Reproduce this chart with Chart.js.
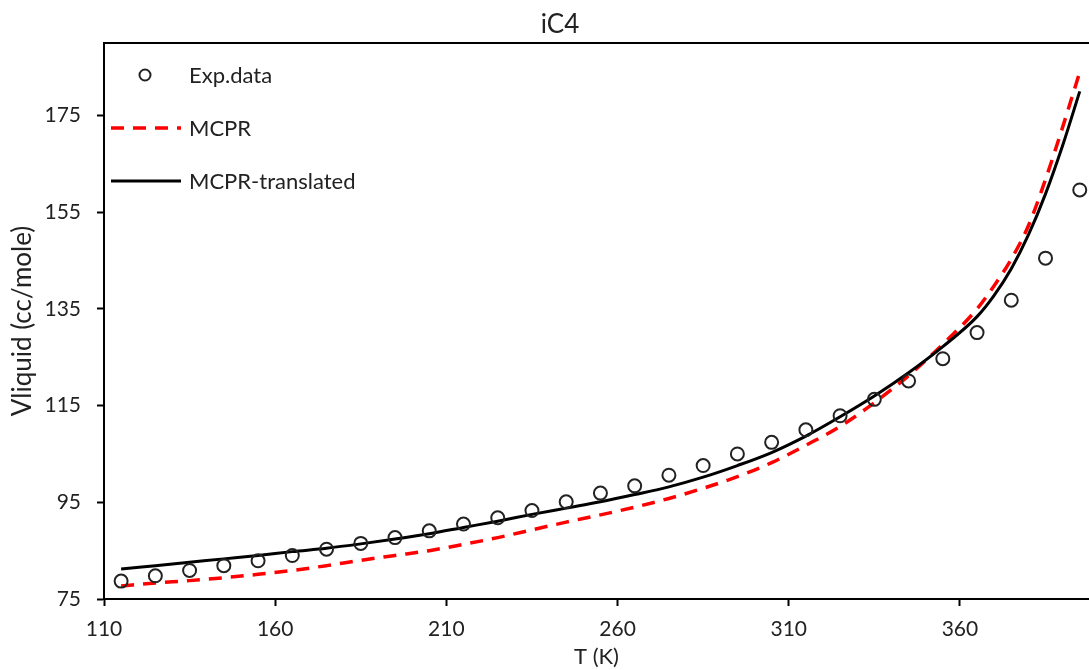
<!DOCTYPE html>
<html>
<head>
<meta charset="utf-8">
<script src="https://cdn.jsdelivr.net/npm/chart.js@4/dist/chart.umd.min.js"></script>
<style>
  html, body { margin: 0; padding: 0; background: #fff; }
  #wrap { width: 1089px; height: 670px; }
</style>
</head>
<body>
<div id="wrap"><canvas id="vl-chart" width="1089" height="670"></canvas></div>
<script>
// experimental points
var tempExp = [115, 125, 135, 145, 155, 165, 175, 185, 195, 205, 215, 225, 235, 245, 255,
  265, 275, 285, 295, 305, 315, 325, 335, 345, 355, 365, 375, 385, 395];
var vExp = [78.7, 79.8, 80.9, 81.9, 82.9, 84.0, 85.3, 86.5, 87.7, 89.1, 90.5, 91.8, 93.3, 95.1, 96.9,
  98.4, 100.6, 102.6, 105.0, 107.4, 110.0, 112.9, 116.3, 120.1, 124.7, 130.1, 136.8, 145.5, 159.6];

// model curves
var tempModel = [115, 125, 135, 145, 155, 165, 175, 185, 195, 205, 215, 225, 235, 245, 255, 265,
  275, 285, 295, 305, 315, 325, 335, 345, 355, 365, 370, 375, 380, 385, 390, 395];
var vMcpr = [77.7, 78.3, 78.8, 79.4, 80.1, 80.9, 81.9, 83.0, 84.0, 85.0, 86.3, 87.7, 89.3, 90.9, 92.4, 94.0,
  95.8, 97.9, 100.3, 103.2, 106.8, 110.7, 115.6, 121.2, 127.7, 135.0, 139.8, 145.3, 152.2, 161.8, 172.6, 184.0];
var vTranslated = [81.2, 81.9, 82.6, 83.3, 84.0, 84.8, 85.5, 86.4, 87.4, 88.5, 89.8, 91.1, 92.5, 93.8, 95.1, 96.6,
  98.2, 100.2, 102.6, 105.3, 108.7, 112.7, 117.0, 121.8, 127.2, 133.4, 137.8, 143.3, 150.3, 158.8, 168.8, 180.0];

var seriesNames = ['Exp.data', 'MCPR', 'MCPR-translated'];
var xTicks = [110, 160, 210, 260, 310, 360];
var yTicks = [75, 95, 115, 135, 155, 175];

var FONT = 'Lato, "Open Sans", sans-serif';
var INK = '#222';

function pairs(xs, ys) {
  return xs.map(function(x, i) { return { x: x, y: ys[i] }; });
}

// title, top frame line and in-plot legend
var decorations = {
  id: 'decorations',
  afterDraw: function(chart) {
    var ctx = chart.ctx;
    var area = chart.chartArea;
    ctx.save();

    ctx.strokeStyle = '#000';
    ctx.lineWidth = 2;
    ctx.beginPath();
    ctx.moveTo(area.left, area.top);
    ctx.lineTo(chart.width, area.top);
    ctx.stroke();

    ctx.fillStyle = INK;
    ctx.font = '26px ' + FONT;
    ctx.textAlign = 'center';
    ctx.textBaseline = 'middle';
    ctx.fillText('iC4', 560, 25);

    ctx.font = '22px ' + FONT;
    ctx.textAlign = 'left';
    var rows = [75, 128, 181];
    chart.data.datasets.forEach(function(ds, i) {
      var y = rows[i];
      if (ds.showLine) {
        ctx.strokeStyle = ds.borderColor;
        ctx.lineWidth = ds.borderWidth;
        ctx.setLineDash(ds.borderDash || []);
        ctx.beginPath();
        ctx.moveTo(111, y);
        ctx.lineTo(181, y);
        ctx.stroke();
        ctx.setLineDash([]);
      } else {
        ctx.strokeStyle = ds.pointBorderColor;
        ctx.lineWidth = ds.pointBorderWidth;
        ctx.beginPath();
        ctx.arc(145, y, 5.5, 0, Math.PI * 2);
        ctx.stroke();
      }
      ctx.fillStyle = INK;
      ctx.fillText(ds.label, 189, y + 1);
    });
    ctx.restore();
  }
};

var ctx = document.getElementById('vl-chart').getContext('2d');
var vlChart = new Chart(ctx, {
  type: 'scatter',
  data: {
    datasets: [
      {
        label: seriesNames[0],
        data: pairs(tempExp, vExp),
        showLine: false,
        pointStyle: 'circle',
        pointRadius: 6.5,
        pointBorderWidth: 2,
        pointBorderColor: '#222',
        pointBackgroundColor: 'rgba(255,255,255,0)',
        order: 0
      },
      {
        label: seriesNames[1],
        data: pairs(tempModel, vMcpr),
        showLine: true,
        borderColor: '#ff0000',
        borderWidth: 3.5,
        borderDash: [13, 9],
        pointRadius: 0,
        cubicInterpolationMode: 'monotone',
        order: 2
      },
      {
        label: seriesNames[2],
        data: pairs(tempModel, vTranslated),
        showLine: true,
        borderColor: '#000',
        borderWidth: 3,
        pointRadius: 0,
        cubicInterpolationMode: 'monotone',
        order: 1
      }
    ]
  },
  options: {
    responsive: false,
    animation: false,
    layout: { autoPadding: false, padding: { top: 43, left: 0, right: 0, bottom: 0 } },
    plugins: {
      legend: { display: false },
      tooltip: { enabled: false }
    },
    scales: {
      x: {
        type: 'linear',
        bounds: 'data',
        min: 110,
        max: 397.7,
        afterBuildTicks: function(scale) {
          scale.ticks = xTicks.map(function(v) { return { value: v }; });
        },
        afterFit: function(scale) {
          scale.height = 71;
        },
        grid: {
          drawOnChartArea: false,
          drawTicks: true,
          tickLength: 7,
          tickWidth: 2,
          tickColor: '#000',
          color: '#000'
        },
        border: { display: true, color: '#000', width: 2 },
        ticks: {
          color: INK,
          padding: 11,
          maxRotation: 0,
          font: { family: FONT, size: 21 }
        },
        title: {
          display: true,
          text: 'T (K)',
          color: INK,
          padding: { top: 0, bottom: 0 },
          font: { family: FONT, size: 22 }
        }
      },
      y: {
        type: 'linear',
        min: 75,
        max: 190,
        afterBuildTicks: function(scale) {
          scale.ticks = yTicks.map(function(v) { return { value: v }; });
        },
        afterFit: function(scale) { scale.width = 104; },
        grid: {
          drawOnChartArea: false,
          drawTicks: true,
          tickLength: 7,
          tickWidth: 2,
          tickColor: '#000',
          color: '#000'
        },
        border: { display: true, color: '#000', width: 2 },
        ticks: {
          color: INK,
          padding: 16,
          font: { family: FONT, size: 21 }
        },
        title: {
          display: true,
          text: 'Vliquid (cc/mole)',
          color: INK,
          padding: { top: 7, bottom: 0 },
          font: { family: FONT, size: 26 }
        }
      }
    }
  },
  plugins: [decorations]
});
</script>
</body>
</html>
